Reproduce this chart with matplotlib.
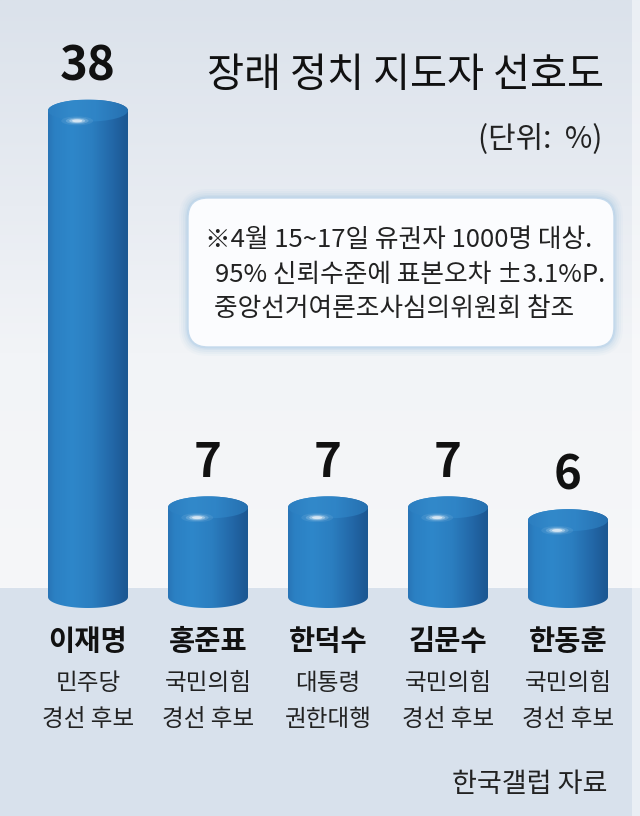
import numpy as np
import matplotlib
matplotlib.use("Agg")
import matplotlib.pyplot as plt
from matplotlib.path import Path
from matplotlib.patches import PathPatch, Ellipse, FancyBboxPatch, Rectangle
from matplotlib.colors import LinearSegmentedColormap

plt.rcParams['font.family'] = ['Noto Sans CJK KR', 'DejaVu Sans']

# ---------------- data ----------------
names = ['이재명', '홍준표', '한덕수', '김문수', '한동훈']
parties = ['민주당', '국민의힘', '대통령', '국민의힘', '국민의힘']
roles = ['경선 후보', '경선 후보', '권한대행', '경선 후보', '경선 후보']
values = [38, 7, 7, 7, 6]

title = '장래 정치 지도자 선호도'
unit_text = '(단위:  %)'
note_lines = ['※4월 15~17일 유권자 1000명 대상.',
              '95% 신뢰수준에 표본오차 ±3.1%P.',
              '중앙선거여론조사심의위원회 참조']
source = '한국갤럽 자료'

# ---------------- layout ----------------
W, H = 640, 816
fig = plt.figure(figsize=(W / 100, H / 100), dpi=100)

# background (pixel coordinates)
bg = fig.add_axes([0, 0, 1, 1], zorder=0)
bg.set_xlim(0, W)
bg.set_ylim(H, 0)
bg.axis('off')
bg_cmap = LinearSegmentedColormap.from_list(
    'bg', [(0.0, '#dbe2eb'), (0.35, '#e8ecf2'), (0.6, '#f2f4f7'), (1.0, '#f6f7f9')])
grad = np.linspace(0, 1, 256)[:, None]
bg.imshow(grad, cmap=bg_cmap, extent=(0, W, 588, 0), aspect='auto', zorder=0)
bg.add_patch(Rectangle((0, 588), W, H - 588, facecolor='#d8e1ec', edgecolor='none', zorder=1))
bg.add_patch(Rectangle((632, 0), 8, H, facecolor='white', alpha=0.45, edgecolor='none', zorder=1))

# note box with glow
bx, by, bw, bh = 188, 198, 426, 149
for k, a in zip([9, 7, 5, 3, 1.5], [0.06, 0.08, 0.10, 0.14, 0.25]):
    bg.add_patch(FancyBboxPatch((bx - k, by - k), bw + 2 * k, bh + 2 * k,
                                boxstyle='round,pad=0,rounding_size=%g' % (20 + k),
                                facecolor='#9cc3e2', edgecolor='none', alpha=a, zorder=2))
bg.add_patch(FancyBboxPatch((bx, by), bw, bh, boxstyle='round,pad=0,rounding_size=20',
                            facecolor='#fbfcfe', edgecolor='#c4d9ec', linewidth=1.0, zorder=3))
note_x = [205, 215, 214]
note_y = [240, 275, 309]
for t, x, y in zip(note_lines, note_x, note_y):
    bg.text(x, y, t, fontsize=18.5, color='#222222', ha='left', va='center', zorder=4)

bg.text(604, 75, title, fontsize=29, fontweight='medium', color='#111111',
        ha='right', va='center', zorder=4)
bg.text(602, 140, unit_text, fontsize=21.5, color='#222222', ha='right', va='center', zorder=4)
bg.text(607, 785, source, fontsize=19.5, color='#222222', ha='right', va='center', zorder=4)

# main data axes: 120 px per category, 12.8 px per percent, base at y=597 px
ax = fig.add_axes([0, 0, 1, 1], zorder=1)
ax.patch.set_alpha(0)
ax.axis('off')
XLIM = (-88 / 120, (W - 88) / 120)
YLIM = ((597 - H) / 12.8, 597 / 12.8)

hw = 40 / 120          # half width in category units
e = 11 / 12.8          # ellipse half height in value units

body_cmap = LinearSegmentedColormap.from_list(
    'body', [(0.0, '#2874b6'), (0.08, '#2b80c3'), (0.3, '#2e87ca'),
             (0.55, '#2b7ec0'), (0.8, '#2368a8'), (0.95, '#1d5a96'), (1.0, '#1c5892')])
cap_cmap = LinearSegmentedColormap.from_list(
    'cap', [(0.0, '#2c7ec0'), (0.3, '#3289ca'), (0.6, '#2f84c6'), (1.0, '#2670b0')])
hgrad = np.linspace(0, 1, 256)[None, :]

xs = np.arange(len(values))
for xc, v in zip(xs, values):
    t1 = np.linspace(np.pi, 2 * np.pi, 60)
    t2 = np.linspace(0, np.pi, 60)
    verts = [(xc - hw, v)]
    verts += list(zip(xc + hw * np.cos(t1), e * np.sin(t1)))
    verts += list(zip(xc + hw * np.cos(t2), v + e * np.sin(t2)))
    verts.append(verts[0])
    codes = [Path.MOVETO] + [Path.LINETO] * (len(verts) - 2) + [Path.CLOSEPOLY]
    outline = PathPatch(Path(verts, codes), facecolor='none', edgecolor='none',
                        transform=ax.transData)
    ax.add_patch(outline)
    im = ax.imshow(hgrad, cmap=body_cmap, extent=(xc - hw, xc + hw, -e, v + e),
                   aspect='auto', zorder=3)
    im.set_clip_path(outline)

    cap = Ellipse((xc, v), 2 * hw, 2 * e, facecolor='none', edgecolor='none',
                  transform=ax.transData)
    ax.add_patch(cap)
    imc = ax.imshow(hgrad, cmap=cap_cmap, extent=(xc - hw, xc + hw, v - e, v + e),
                    aspect='auto', zorder=4)
    imc.set_clip_path(cap)
    # soft highlight near front rim
    for s, a in zip([1.4, 1.0, 0.7, 0.45], [0.08, 0.18, 0.35, 0.6]):
        ax.add_patch(Ellipse((xc - 0.09, v - 0.8), 0.19 * s, 0.5 * s,
                             facecolor='white', edgecolor='none', alpha=a, zorder=5))
    ax.annotate(str(v), (xc, v + e), xytext=(0, 14), textcoords='offset points',
                ha='center', va='baseline', fontsize=34, fontweight='bold',
                color='#111111', zorder=6)

trans = ax.get_xaxis_transform()
for xc, n, p, r in zip(xs, names, parties, roles):
    ax.text(xc, 1 - 642 / H, n, transform=trans, ha='center', va='center',
            fontsize=20.5, fontweight='bold', color='#111111', zorder=6)
    ax.text(xc, 1 - 683 / H, p, transform=trans, ha='center', va='center',
            fontsize=17, color='#222222', zorder=6)
    ax.text(xc, 1 - 720 / H, r, transform=trans, ha='center', va='center',
            fontsize=17, color='#222222', zorder=6)

ax.set_xlim(*XLIM)
ax.set_ylim(*YLIM)

fig.savefig('out.png', dpi=100)
